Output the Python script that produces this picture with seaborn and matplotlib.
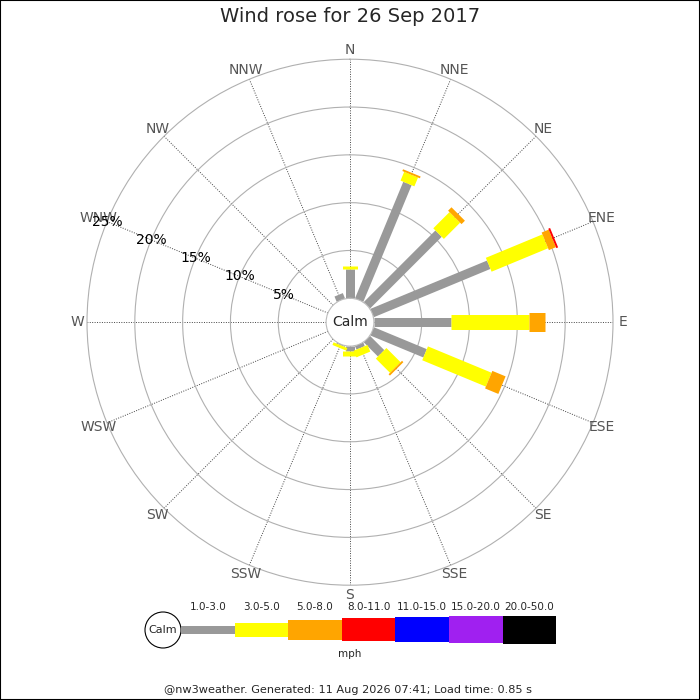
import numpy as np
import pandas as pd
import matplotlib
matplotlib.use('Agg')
import matplotlib.pyplot as plt
from matplotlib.patches import Circle, Rectangle
import seaborn as sns

# wind directions (16 points) and % of time in each speed band
directions = ['N', 'NNE', 'NE', 'ENE', 'E', 'ESE', 'SE', 'SSE',
              'S', 'SSW', 'SW', 'WSW', 'W', 'WNW', 'NW', 'NNW']
bands = ['1.0-3.0', '3.0-5.0', '5.0-8.0', '8.0-11.0', '11.0-15.0', '15.0-20.0', '20.0-50.0']
band_colors = ['#999999', '#ffff00', '#ffa500', '#ff0000', '#0000ff', '#a020f0', '#000000']

pct_1_3 = [3.1, 13.2, 10.6, 13.2, 8.1, 6.0, 2.1, 0.4, 0.5, 0.1, 0, 0, 0, 0, 0, 0.6]
pct_3_5 = [0.3, 1.0, 2.4, 6.4, 8.15, 7.2, 2.1, 0.75, 0.55, 0.3, 0, 0, 0, 0, 0, 0]
pct_5_8 = [0, 0.2, 0.5, 0.8, 1.65, 1.5, 0.2, 0, 0, 0, 0, 0, 0, 0, 0, 0]
pct_8_11 = [0, 0, 0, 0.2, 0, 0, 0, 0, 0, 0, 0, 0, 0, 0, 0, 0]

rings = [5, 10, 15, 20, 25]

sns.set_style('white')
plt.rcParams['font.family'] = ['DejaVu Sans']

# build segments (start/end radius for every band of every direction)
rows = []
seg = 0
series = [pct_1_3, pct_3_5, pct_5_8, pct_8_11]
for i, d in enumerate(directions):
    theta = np.deg2rad(i * 22.5)
    r0 = 0.0
    for b, vals in enumerate(series):
        v = vals[i]
        if v <= 0:
            continue
        rows.append({'unit': seg, 'theta': theta, 'r': r0, 'band': bands[b]})
        rows.append({'unit': seg, 'theta': theta, 'r': r0 + v, 'band': bands[b]})
        r0 += v
        seg += 1
df = pd.DataFrame(rows)

# bar thickness in pixels, rose and legend strip
line_px = {'1.0-3.0': 9, '3.0-5.0': 15, '5.0-8.0': 19, '8.0-11.0': 21,
           '11.0-15.0': 23, '15.0-20.0': 25, '20.0-50.0': 27}
key_px = [8, 14, 20, 23, 25, 27, 28]

fig = plt.figure(figsize=(7, 7), dpi=100)
ax = fig.add_axes([0.1243, 0.164, 0.7514, 0.7514], projection='polar')
ax.set_theta_zero_location('N')
ax.set_theta_direction(-1)
ax.set_ylim(0, 25)
ax.set_rorigin(-2.5)

ax.set_xticks(np.deg2rad(np.arange(16) * 22.5))
ax.set_xticklabels([])
ax.set_yticks(rings[:-1])
ax.set_yticklabels([])
ax.xaxis.grid(True, linestyle=(0, (1, 1.5)), color='#444444', linewidth=0.7)
ax.yaxis.grid(True, linestyle='-', color='#b0b0b0', linewidth=0.8)
ax.spines['polar'].set_color('#b0b0b0')
ax.spines['polar'].set_linewidth(0.8)
ax.spines['inner'].set_color('#bbbbbb')
ax.spines['inner'].set_linewidth(0.8)

sns.lineplot(data=df, x='theta', y='r', units='unit', hue='band', size='band',
             palette=dict(zip(bands, band_colors)),
             sizes={k: v * 0.72 for k, v in line_px.items()},
             estimator=None, sort=False, legend=False, ax=ax,
             solid_capstyle='butt')
ax.set_xlabel('')
ax.set_ylabel('')

# direction labels
for i, d in enumerate(directions):
    ax.text(np.deg2rad(i * 22.5), 26.0, d, ha='center', va='center',
            fontsize=10, color='#555555')

# percentage labels along WNW
for r in rings:
    ax.text(np.deg2rad(292.5), r, f'{r}%', ha='center', va='center',
            fontsize=10, color='black', zorder=5)

fig.text(350 / 700, 1 - 322 / 700, 'Calm', ha='center', va='center', fontsize=10)
fig.suptitle('Wind rose for 26 Sep 2017', y=1 - 17 / 700, va='center', fontsize=14)

# legend strip
lax = fig.add_axes([0, 0, 1, 1])
lax.set_xlim(0, 700)
lax.set_ylim(700, 0)
lax.axis('off')
lax.patch.set_alpha(0)
lax.add_patch(Circle((163, 630), 18, facecolor='white', edgecolor='black', lw=0.8))
lax.text(163, 630, 'Calm', ha='center', va='center', fontsize=8)
x0 = 181
seg_w = 53.6
for b, name in enumerate(bands):
    h = key_px[b]
    lax.add_patch(Rectangle((x0 + b * seg_w, 629.5 - h / 2), seg_w, h,
                            facecolor=band_colors[b], edgecolor='none'))
    lax.text(x0 + (b + 0.5) * seg_w, 607, name, ha='center', va='center', fontsize=7.5)
lax.text(350, 654, 'mph', ha='center', va='center', fontsize=7.5)
lax.text(348, 690, '@nw3weather. Generated: 11 Aug 2026 07:41; Load time: 0.85 s',
         ha='center', va='center', fontsize=8.1)
fig.patches.append(Rectangle((0, 0), 1, 1, transform=fig.transFigure, fill=False,
                             edgecolor='black', lw=1.5))

fig.savefig('out.png', dpi=100)
